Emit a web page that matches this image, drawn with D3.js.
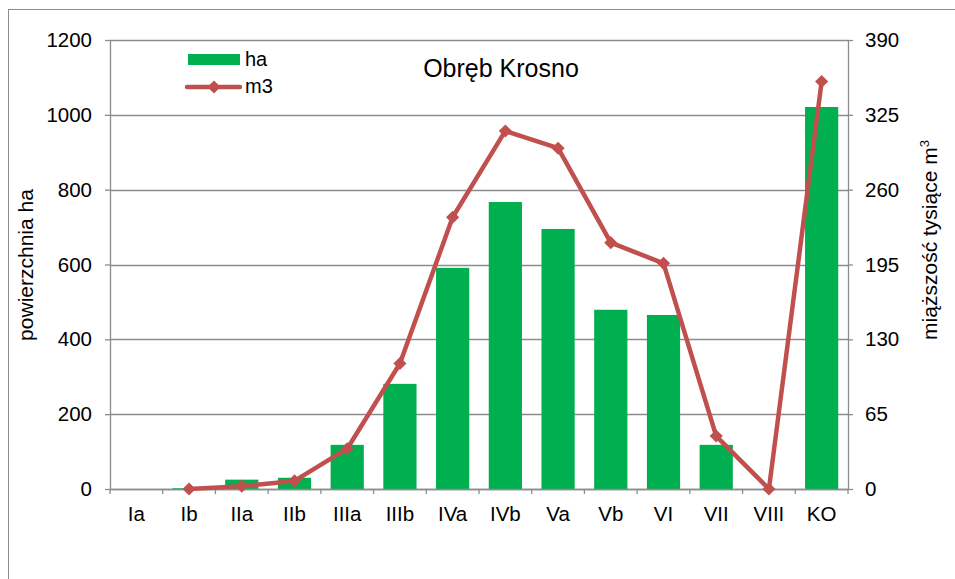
<!DOCTYPE html>
<html>
<head>
<meta charset="utf-8">
<script src="https://cdn.jsdelivr.net/npm/d3@7"></script>
<style>
  body { margin: 0; background: #fff; }
  text { font-family: "Liberation Sans", Arial, sans-serif; }
</style>
</head>
<body>
<div id="chart"></div>
<script>
// data
const categories = ["Ia", "Ib", "IIa", "IIb", "IIIa", "IIIb", "IVa", "IVb", "Va", "Vb", "VI", "VII", "VIII", "KO"];
const haValues = [0, 2, 25, 30, 118, 281, 591, 767, 695, 479, 465, 118, 0, 1021];
const m3Values = [null, 0, 2.5, 7, 35, 109, 236, 311, 296, 214, 196, 46, 0, 354];
const leftTicks = [0, 200, 400, 600, 800, 1000, 1200];
const rightTicks = [0, 65, 130, 195, 260, 325, 390];

const W = 955, H = 579;
const margin = {top: 40, right: 107, bottom: 90, left: 110};
const width = W - margin.left - margin.right,
    height = H - margin.top - margin.bottom;

const svg = d3.select("#chart")
  .append("svg")
    .attr("width", W)
    .attr("height", H);

// outer frame
svg.append("rect")
  .attr("x", 8.5).attr("y", 9.5)
  .attr("width", 960).attr("height", 600)
  .attr("fill", "none")
  .attr("stroke", "#8c8c8c")
  .attr("stroke-width", 1);

const g = svg.append("g")
  .attr("transform", `translate(${margin.left}, ${margin.top})`);

const x = d3.scaleBand()
  .domain(categories)
  .range([0, width])
  .paddingInner(0.37)
  .paddingOuter(0.185);

const y = d3.scaleLinear().domain([0, 1200]).range([height, 0]);
const y2 = d3.scaleLinear().domain([0, 390]).range([height, 0]);

// gridlines
g.selectAll("line.grid")
  .data(leftTicks)
  .join("line")
    .attr("class", "grid")
    .attr("x1", 0).attr("x2", width)
    .attr("y1", d => Math.round(y(d)) + 0.5)
    .attr("y2", d => Math.round(y(d)) + 0.5)
    .attr("stroke", "#8c8c8c")
    .attr("stroke-width", 1.3);

// bars
g.selectAll("rect.bar")
  .data(categories)
  .join("rect")
    .attr("class", "bar")
    .attr("x", d => x(d))
    .attr("width", x.bandwidth())
    .attr("y", (d, i) => y(haValues[i]))
    .attr("height", (d, i) => height - y(haValues[i]))
    .attr("fill", "#00B050");

// axes
const styleAxis = sel => {
  sel.select(".domain").attr("stroke", "#8c8c8c").attr("stroke-width", 1.3);
  sel.selectAll(".tick line").attr("stroke", "#8c8c8c").attr("stroke-width", 1.3);
  sel.selectAll("text")
    .style("font-size", "20.5px")
    .attr("fill", "#000");
};

g.append("g")
  .call(d3.axisLeft(y).tickValues(leftTicks).tickFormat(d3.format("d"))
    .tickSize(5).tickPadding(13).tickSizeOuter(0))
  .call(styleAxis);

g.append("g")
  .attr("transform", `translate(${width}, 0)`)
  .call(d3.axisRight(y2).tickValues(rightTicks).tickFormat(d3.format("d"))
    .tickSize(5).tickPadding(12).tickSizeOuter(0))
  .call(styleAxis);

// x axis: ticks between categories
const xAxis = g.append("g").attr("transform", `translate(0, ${height})`);
xAxis.append("line")
  .attr("x1", 0).attr("x2", width)
  .attr("y1", 0.5).attr("y2", 0.5)
  .attr("stroke", "#8c8c8c").attr("stroke-width", 1.3);
const step = width / categories.length;
xAxis.selectAll("line.tk")
  .data(d3.range(categories.length + 1))
  .join("line")
    .attr("class", "tk")
    .attr("x1", i => i * step).attr("x2", i => i * step)
    .attr("y1", 0).attr("y2", 5)
    .attr("stroke", "#8c8c8c").attr("stroke-width", 1.3);
xAxis.selectAll("text")
  .data(categories)
  .join("text")
    .attr("x", d => x(d) + x.bandwidth() / 2)
    .attr("y", 32)
    .attr("text-anchor", "middle")
    .style("font-size", "20.5px")
    .text(d => d);

// line series
const pts = categories.map((c, i) => ({c, v: m3Values[i]})).filter(d => d.v !== null);
const line = d3.line()
  .x(d => x(d.c) + x.bandwidth() / 2)
  .y(d => y2(d.v));

g.append("path")
  .datum(pts)
  .attr("d", line)
  .attr("fill", "none")
  .attr("stroke", "#C0504D")
  .attr("stroke-width", 4.5)
  .attr("stroke-linejoin", "round");

const diamond = d3.symbol().type(d3.symbolDiamond2).size(110);
g.selectAll("path.mk")
  .data(pts)
  .join("path")
    .attr("class", "mk")
    .attr("transform", d => `translate(${x(d.c) + x.bandwidth() / 2}, ${y2(d.v)})`)
    .attr("d", diamond)
    .attr("fill", "#C0504D");

// title
svg.append("text")
  .attr("x", 501).attr("y", 77)
  .attr("text-anchor", "middle")
  .style("font-size", "25px")
  .text("Obręb Krosno");

// legend
svg.append("rect")
  .attr("x", 188).attr("y", 54)
  .attr("width", 52).attr("height", 11)
  .attr("fill", "#00B050");
svg.append("text")
  .attr("x", 245).attr("y", 66)
  .style("font-size", "20px")
  .text("ha");
svg.append("line")
  .attr("x1", 187).attr("x2", 240)
  .attr("y1", 87).attr("y2", 87)
  .attr("stroke", "#C0504D").attr("stroke-width", 4.5)
  .attr("stroke-linecap", "round");
svg.append("path")
  .attr("transform", "translate(214, 87)")
  .attr("d", diamond)
  .attr("fill", "#C0504D");
svg.append("text")
  .attr("x", 245).attr("y", 93)
  .style("font-size", "20px")
  .text("m3");

// axis titles
svg.append("text")
  .attr("transform", "translate(33, 265) rotate(-90)")
  .attr("text-anchor", "middle")
  .style("font-size", "21px")
  .text("powierzchnia ha");

const rt = svg.append("text")
  .attr("transform", "translate(937, 240) rotate(-90)")
  .attr("text-anchor", "middle")
  .style("font-size", "21px");
rt.append("tspan").text("miąższość tysiące m");
rt.append("tspan").attr("dy", -8).style("font-size", "13px").text("3");
</script>
</body>
</html>
